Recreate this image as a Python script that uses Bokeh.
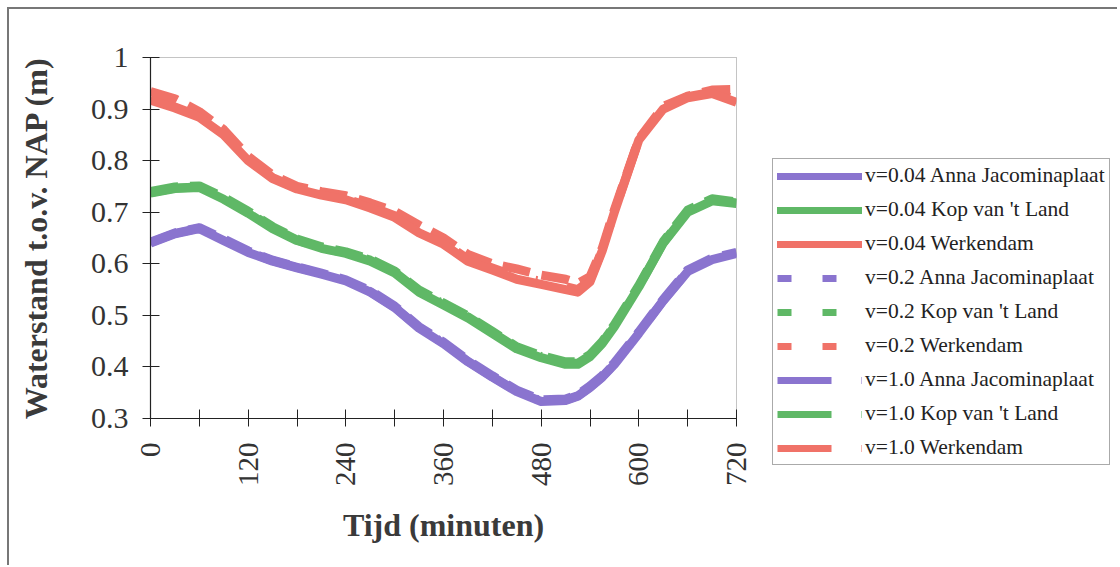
from bokeh.plotting import figure
from bokeh.layouts import row, column
from bokeh.models import (Range1d, FixedTicker, CustomJSTickFormatter, Legend, LegendItem)
from bokeh.embed import file_html
from bokeh.resources import INLINE
import math

# ---------------- data ----------------
tijd = [0, 30, 60, 90, 120, 150, 180, 210, 240, 270, 300, 330, 360, 390, 420,
        450, 480, 510, 525, 540, 555, 570, 600, 630, 660, 690, 720]

anna_004 = [0.640, 0.658, 0.668, 0.645, 0.622, 0.605, 0.592, 0.580, 0.567, 0.545,
            0.515, 0.475, 0.445, 0.410, 0.380, 0.352, 0.333, 0.335, 0.343, 0.360,
            0.380, 0.405, 0.465, 0.528, 0.585, 0.608, 0.620]
kop_004 = [0.737, 0.746, 0.748, 0.725, 0.698, 0.668, 0.645, 0.630, 0.620, 0.605,
           0.582, 0.545, 0.520, 0.495, 0.465, 0.435, 0.418, 0.405, 0.405, 0.420,
           0.445, 0.478, 0.555, 0.640, 0.700, 0.722, 0.717]
werk_004 = [0.917, 0.902, 0.884, 0.850, 0.800, 0.765, 0.745, 0.733, 0.724, 0.708,
            0.690, 0.660, 0.638, 0.605, 0.588, 0.570, 0.560, 0.550, 0.545, 0.565,
            0.625, 0.700, 0.840, 0.900, 0.922, 0.930, 0.913]

anna_02 = [0.642, 0.660, 0.670, 0.648, 0.625, 0.607, 0.594, 0.582, 0.569, 0.548,
           0.518, 0.478, 0.448, 0.413, 0.383, 0.355, 0.336, 0.338, 0.346, 0.363,
           0.383, 0.408, 0.468, 0.531, 0.588, 0.611, 0.622]
kop_02 = [0.740, 0.749, 0.751, 0.729, 0.702, 0.672, 0.648, 0.633, 0.623, 0.609,
          0.586, 0.549, 0.524, 0.499, 0.469, 0.439, 0.422, 0.410, 0.410, 0.424,
          0.449, 0.482, 0.558, 0.643, 0.704, 0.726, 0.720]
werk_02 = [0.934, 0.920, 0.895, 0.860, 0.808, 0.772, 0.750, 0.740, 0.732, 0.718,
           0.702, 0.675, 0.650, 0.618, 0.600, 0.590, 0.578, 0.570, 0.562, 0.575,
           0.630, 0.705, 0.842, 0.905, 0.925, 0.937, 0.938]

anna_10 = [0.641, 0.659, 0.669, 0.646, 0.623, 0.606, 0.593, 0.581, 0.568, 0.546,
           0.516, 0.476, 0.446, 0.411, 0.381, 0.353, 0.334, 0.336, 0.344, 0.361,
           0.381, 0.406, 0.466, 0.529, 0.586, 0.609, 0.621]
kop_10 = [0.738, 0.747, 0.749, 0.727, 0.700, 0.670, 0.646, 0.631, 0.621, 0.607,
          0.584, 0.547, 0.522, 0.497, 0.467, 0.437, 0.420, 0.407, 0.407, 0.422,
          0.447, 0.480, 0.556, 0.641, 0.702, 0.724, 0.718]
werk_10 = [0.919, 0.904, 0.886, 0.852, 0.803, 0.767, 0.747, 0.735, 0.726, 0.711,
           0.693, 0.664, 0.642, 0.609, 0.592, 0.575, 0.566, 0.556, 0.550, 0.568,
           0.627, 0.702, 0.841, 0.902, 0.924, 0.933, 0.918]

labels = ["v=0.04 Anna Jacominaplaat", "v=0.04 Kop van 't Land", "v=0.04 Werkendam",
          "v=0.2 Anna Jacominaplaat", "v=0.2 Kop van 't Land", "v=0.2 Werkendam",
          "v=1.0 Anna Jacominaplaat", "v=1.0 Kop van 't Land", "v=1.0 Werkendam"]

x_ticks = [0, 120, 240, 360, 480, 600, 720]
x_minor = [60, 180, 300, 420, 540, 660]
y_ticks = [0.3, 0.4, 0.5, 0.6, 0.7, 0.8, 0.9, 1.0]

# ---------------- styles ----------------
PURPLE = "#8a74cf"
GREEN = "#5fb866"
RED = "#f07268"
SERIF = "Liberation Serif"
TXT = "#333333"
H = 556

p = figure(width=747, height=H, output_backend="svg", toolbar_location=None,
           x_range=Range1d(0, 720), y_range=Range1d(0.3, 1.0),
           min_border_left=141, min_border_right=20, min_border_top=48,
           min_border_bottom=147)

p.xgrid.visible = False
p.ygrid.visible = False
p.outline_line_color = "#888888"
p.outline_line_dash = "1 1"
p.outline_line_width = 1
p.background_fill_color = "white"
p.border_fill_color = "white"

# axes
xa = p.xaxis[0]
xa.ticker = FixedTicker(ticks=x_ticks, minor_ticks=x_minor)
xa.major_label_orientation = math.pi / 2
xa.axis_label = "Tijd (minuten)"
ya = p.yaxis[0]
ya.ticker = FixedTicker(ticks=y_ticks)
ya.formatter = CustomJSTickFormatter(code="return tick > 0.999 ? '1' : tick.toFixed(1);")
ya.axis_label = "Waterstand t.o.v. NAP (m)"
for ax in (xa, ya):
    ax.axis_line_color = "#222222"
    ax.axis_line_width = 1.2
    ax.major_tick_line_color = "#222222"
    ax.minor_tick_line_color = "#222222"
    ax.major_tick_in = 9
    ax.major_tick_out = 8
    ax.minor_tick_in = 9
    ax.minor_tick_out = 8
    ax.major_label_text_font = SERIF
    ax.major_label_text_color = TXT
    ax.axis_label_text_font = SERIF
    ax.axis_label_text_font_style = "bold"
    ax.axis_label_text_color = "#3a3a3a"
    ax.axis_label_text_font_size = "32px"
xa.major_label_text_font_size = "29px"
ya.major_label_text_font_size = "30px"
ya.minor_tick_in = 0
ya.minor_tick_out = 0
xa.major_label_standoff = 16
ya.major_label_standoff = 14
xa.axis_label_standoff = 18
ya.axis_label_standoff = 34

LW = 9
series = [
    (anna_10, PURPLE, "54 30 2 30"), (kop_10, GREEN, "54 30 2 30"), (werk_10, RED, "54 30 2 30"),
    (anna_02, PURPLE, "28 12"), (kop_02, GREEN, "28 12"), (werk_02, RED, "28 12"),
    (anna_004, PURPLE, "solid"), (kop_004, GREEN, "solid"), (werk_004, RED, "solid"),
]
for ys, col, dash in series:
    p.line(tijd, ys, line_color=col, line_width=LW, line_dash=dash, line_join="round")

# ---------------- legend panel (separate, axis-free figure) ----------------
lf = figure(width=361, height=H, output_backend="svg", toolbar_location=None,
            x_axis_type=None, y_axis_type=None, x_range=Range1d(0, 1), y_range=Range1d(0, 1),
            min_border=0, min_border_left=0, min_border_right=0,
            min_border_top=0, min_border_bottom=0)
lf.xgrid.visible = False
lf.ygrid.visible = False
lf.outline_line_color = None
lf.background_fill_color = "white"
lf.border_fill_color = "white"

leg_styles = [
    (PURPLE, "solid"), (GREEN, "solid"), (RED, "solid"),
    (PURPLE, "14 31"), (GREEN, "14 31"), (RED, "14 31"),
    (PURPLE, "54 30 2 30"), (GREEN, "54 30 2 30"), (RED, "54 30 2 30"),
]
items = []
for lab, (col, dash) in zip(labels, leg_styles):
    r = lf.line([float("nan")], [float("nan")], line_color=col, line_width=7,
                line_dash=dash, line_cap="round" if dash == "solid" else "butt")
    items.append(LegendItem(label=lab, renderers=[r]))

legend = Legend(items=items, location=(16, 100))
legend.label_text_font = SERIF
legend.label_text_font_size = "21.5px"
legend.label_text_color = "#222222"
legend.glyph_width = 85
legend.glyph_height = 20
legend.label_height = 20
legend.label_standoff = 3
legend.spacing = 9
legend.padding = 4
legend.margin = 0
legend.border_line_color = "#555555"
legend.border_line_width = 1.5
legend.background_fill_color = "white"
legend.background_fill_alpha = 1
lf.add_layout(legend, "center")

layout = row(p, column(lf), spacing=0,
             styles={"margin-left": "7px", "margin-top": "7px",
                     "border-left": "2px solid #777", "border-top": "2px solid #777"})

open("out.html", "w").write(file_html(layout, INLINE))
